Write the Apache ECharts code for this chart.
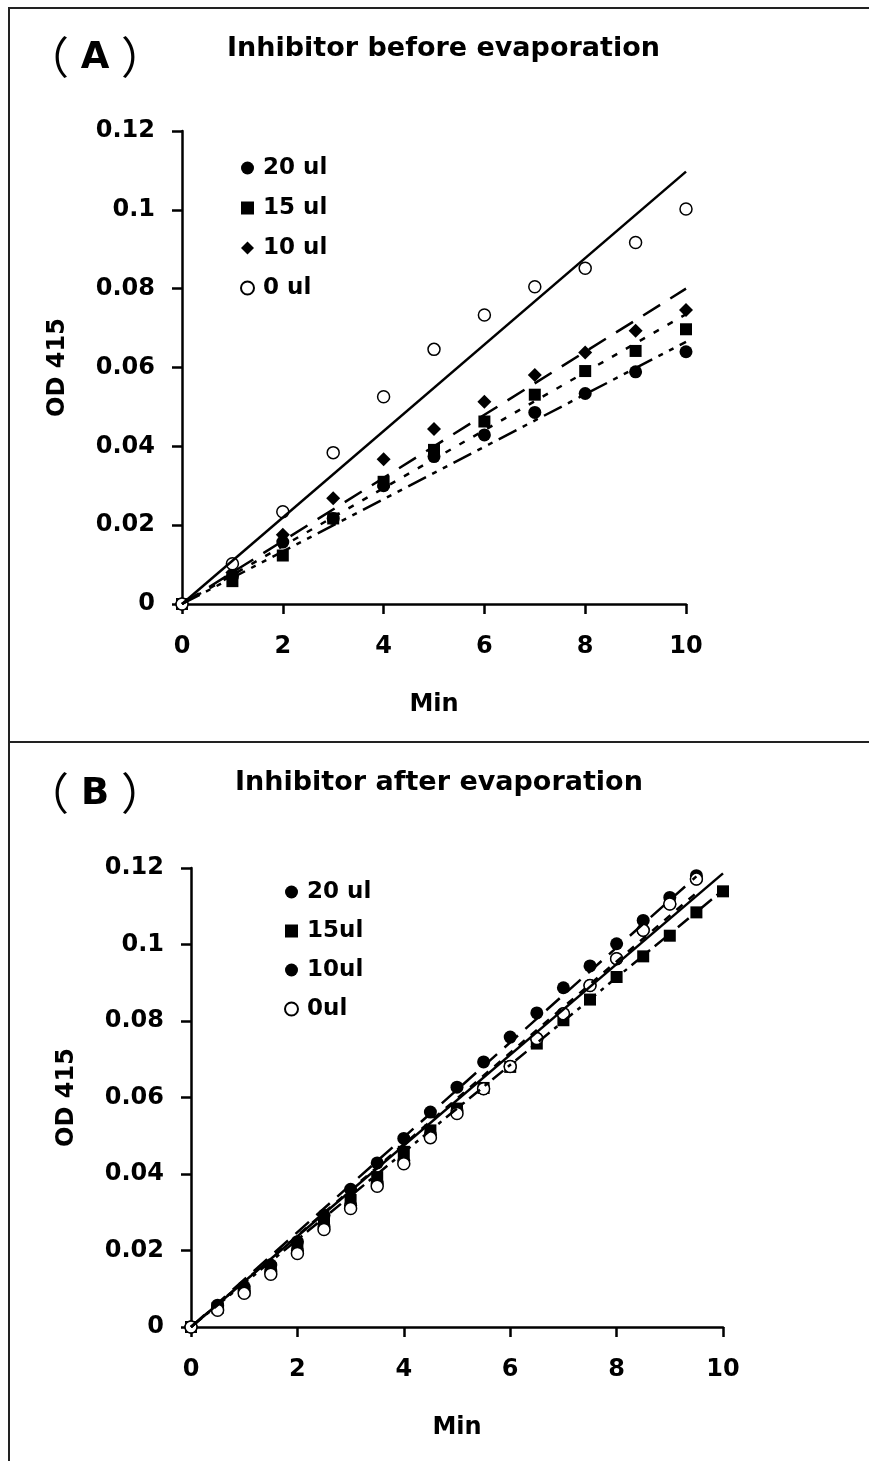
<!DOCTYPE html>
<html>
<head>
<meta charset="utf-8">
<script src="https://cdn.jsdelivr.net/npm/echarts@6/dist/echarts.min.js"></script>
<style>
html,body{margin:0;padding:0;background:#fff;}
#c{width:869px;height:1461px;}
</style>
</head>
<body>
<div id="c"></div>
<script>
// ---------- data ----------
const xTickLabels = ['0','2','4','6','8','10'];
const yTickLabels = ['0','0.02','0.04','0.06','0.08','0.1','0.12'];

// Panel A (Inhibitor before evaporation)
const timeA = [0,1,2,3,4,5,6,7,8,9,10];
const a20 = [0,0.0070,0.0157,0.0217,0.0300,0.0374,0.0429,0.0486,0.0534,0.0589,0.0640];
const a15 = [0,0.0058,0.0123,0.0217,0.0310,0.0391,0.0463,0.0531,0.0591,0.0642,0.0697];
const a10 = [0,0.0080,0.0176,0.0268,0.0367,0.0444,0.0513,0.0581,0.0638,0.0693,0.0746];
const a0  = [0,0.0102,0.0234,0.0384,0.0526,0.0646,0.0733,0.0805,0.0852,0.0917,0.1002];
// trend lines (start / end)
const fitA_t   = [0,10];
const fitA_20  = [0,0.0665];
const fitA_15  = [0,0.0735];
const fitA_10  = [0,0.0800];
const fitA_0   = [0,0.1097];

// Panel B (Inhibitor after evaporation)
const timeB = [0,0.5,1,1.5,2,2.5,3,3.5,4,4.5,5,5.5,6,6.5,7,7.5,8,8.5,9,9.5,10];
const b20 = [0,0.0057,0.0105,0.0162,0.0223,0.0292,0.0360,0.0429,0.0493,0.0562,0.0627,0.0693,0.0758,0.0821,0.0887,0.0944,0.1002,0.1063,0.1123,0.1180];
const b15 = [0,0.0050,0.0095,0.0153,0.0210,0.0279,0.0332,0.0392,0.0458,0.0514,0.0571,0.0625,0.0680,0.0741,0.0802,0.0856,0.0915,0.0969,0.1023,0.1084,0.1139];
const b10 = [0,0.0052,0.0096,0.0146,0.0200,0.0263,0.0318,0.0376,0.0435,0.0503,0.0566,0.0623,0.0681,0.0754,0.0819,0.0893,0.0963,0.1037,0.1106,0.1171];
const b0  = [0,0.0044,0.0088,0.0138,0.0192,0.0255,0.0310,0.0368,0.0427,0.0495,0.0558,0.0623,0.0681,0.0754,0.0819,0.0893,0.0963,0.1037,0.1106,0.1171];
const fitB20_t = [0,9.5],  fitB20 = [0,0.1178];
const fitB15_t = [0,10],   fitB15 = [0,0.1142];
const fitB10_t = [0,9.5],  fitB10 = [0,0.1135];
const fitB0_t  = [0,10],   fitB0  = [0,0.1186];

// ---------- helpers ----------
const FONT = 'DejaVu Sans';
function pairs(xs, ys){ const o=[]; for(let i=0;i<ys.length;i++) o.push([xs[i], ys[i]]); return o; }
const labelStyle = {fontSize:24, fontWeight:'bold', fontFamily:FONT, color:'#000'};

function xAx(g){
  return {type:'value', gridIndex:g, min:0, max:10, interval:2,
    axisLine:{show:true, onZero:true, lineStyle:{color:'#000', width:2.5}},
    axisTick:{show:true, length:10, lineStyle:{color:'#000', width:2.5}},
    splitLine:{show:false},
    axisLabel:Object.assign({margin:31, formatter:v=>xTickLabels[Math.round(v/2)]}, labelStyle),
    name:'Min', nameLocation:'middle', nameGap:89, nameTextStyle:labelStyle};
}
function yAx(g){
  return {type:'value', gridIndex:g, min:0, max:0.12, interval:0.02,
    axisLine:{show:true, lineStyle:{color:'#000', width:2.5}},
    axisTick:{show:true, length:10, lineStyle:{color:'#000', width:2.5}},
    splitLine:{show:false},
    axisLabel:Object.assign({margin:27, formatter:v=>yTickLabels[Math.round(v/0.02)]}, labelStyle),
    name:'OD 415', nameLocation:'middle', nameRotate:90, nameGap:112, nameTextStyle:labelStyle};
}
function fit(name, g, xs, ys, type){
  return {name:name, type:'line', xAxisIndex:g, yAxisIndex:g, data:pairs(xs, ys),
    symbol:'none', silent:true, animation:false,
    lineStyle:{color:'#000', width:2.5, type:type}};
}
function pts(name, g, xs, ys, symbol, size, open){
  return {name:name, type:'scatter', xAxisIndex:g, yAxisIndex:g, data:pairs(xs, ys),
    symbol:symbol, symbolSize:size, animation:false,
    itemStyle: open ? {color:'#fff', borderColor:'#000', borderWidth:1.5, opacity:1}
                    : {color:'#000', opacity:1}};
}
const legendText = {fontSize:23, fontWeight:'bold', fontFamily:FONT, color:'#000', lineHeight:24, padding:[0,0,0,4]};

const option = {
  backgroundColor:'#fff',
  animation:false,
  grid:[
    {left:182, top:131, width:504, height:473},
    {left:191, top:868, width:532, height:459}
  ],
  xAxis:[xAx(0), xAx(1)],
  yAxis:[yAx(0), yAx(1)],
  legend:[
    {orient:'vertical', left:235, top:151, itemGap:16, itemWidth:13, itemHeight:13,
     textStyle:legendText, selectedMode:false,
     data:[{name:'20 ul', icon:'circle'},{name:'15 ul', icon:'rect'},{name:'10 ul', icon:'diamond'},{name:'0 ul', icon:'circle'}]},
    {orient:'vertical', left:279, top:875, itemGap:15, itemWidth:13, itemHeight:13,
     textStyle:legendText, selectedMode:false,
     data:[{name:'20 ul ', icon:'circle'},{name:'15ul', icon:'rect'},{name:'10ul', icon:'circle'},{name:'0ul', icon:'circle'}]}
  ],
  series:[
    fit('fitA20', 0, fitA_t, fitA_20, [20,7,5,7,5,7]),
    fit('fitA15', 0, fitA_t, fitA_15, [6,10]),
    fit('fitA10', 0, fitA_t, fitA_10, [20,12]),
    fit('fitA0',  0, fitA_t, fitA_0, 'solid'),
    pts('20 ul', 0, timeA, a20, 'circle', 13, false),
    pts('15 ul', 0, timeA, a15, 'rect', 12, false),
    pts('10 ul', 0, timeA, a10, 'diamond', 14, false),
    pts('0 ul',  0, timeA, a0, 'circle', 12, true),

    fit('fitB20', 1, fitB20_t, fitB20, [18,10]),
    fit('fitB15', 1, fitB15_t, fitB15, [14,6,4,6]),
    fit('fitB10', 1, fitB10_t, fitB10, [8,8]),
    fit('fitB0',  1, fitB0_t, fitB0, 'solid'),
    pts('20 ul ', 1, timeB, b20, 'circle', 13, false),
    pts('15ul', 1, timeB, b15, 'rect', 12, false),
    pts('10ul', 1, timeB, b10, 'circle', 13, false),
    pts('0ul',  1, timeB, b0, 'circle', 12, true)
  ],
  graphic:[
    {type:'line', shape:{x1:8, y1:8, x2:869, y2:8}, style:{stroke:'#222', lineWidth:2}},
    {type:'line', shape:{x1:9, y1:8, x2:9, y2:1461}, style:{stroke:'#222', lineWidth:2}},
    {type:'line', shape:{x1:8, y1:742, x2:869, y2:742}, style:{stroke:'#222', lineWidth:2}},
    {type:'text', x:47, y:57, style:{text:'（', fontSize:44, fontFamily:'Noto Sans CJK SC', fill:'#000', align:'center', verticalAlign:'middle'}},
    {type:'text', x:95, y:58, style:{text:'A', fontSize:37, fontWeight:'bold', fontFamily:FONT, fill:'#000', align:'center', verticalAlign:'middle'}},
    {type:'text', x:143, y:57, style:{text:'）', fontSize:44, fontFamily:'Noto Sans CJK SC', fill:'#000', align:'center', verticalAlign:'middle'}},
    {type:'text', x:227, y:49, style:{text:'Inhibitor before evaporation', fontSize:27, fontWeight:'bold', fontFamily:FONT, fill:'#000', align:'left', verticalAlign:'middle'}},
    {type:'text', x:47, y:793, style:{text:'（', fontSize:44, fontFamily:'Noto Sans CJK SC', fill:'#000', align:'center', verticalAlign:'middle'}},
    {type:'text', x:95, y:794, style:{text:'B', fontSize:37, fontWeight:'bold', fontFamily:FONT, fill:'#000', align:'center', verticalAlign:'middle'}},
    {type:'text', x:143, y:793, style:{text:'）', fontSize:44, fontFamily:'Noto Sans CJK SC', fill:'#000', align:'center', verticalAlign:'middle'}},
    {type:'text', x:235, y:783, style:{text:'Inhibitor after evaporation', fontSize:27, fontWeight:'bold', fontFamily:FONT, fill:'#000', align:'left', verticalAlign:'middle'}}
  ]
};
const chart = echarts.init(document.getElementById('c'), null, {renderer:'canvas'});
chart.setOption(option);
</script>
</body>
</html>
